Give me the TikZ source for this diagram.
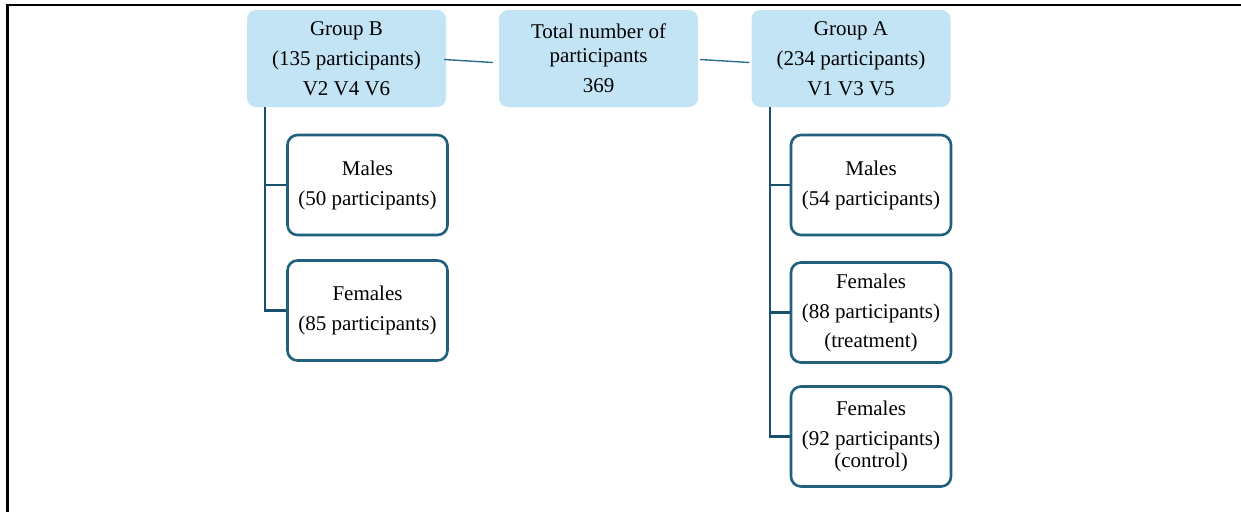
\documentclass[tikz,border=0pt]{standalone}
\usepackage{fontspec}
\setmainfont{Liberation Serif}
\usetikzlibrary{calc}
\definecolor{topfill}{HTML}{C3E4F5}
\definecolor{boxline}{HTML}{21607F}
\definecolor{trunkline}{HTML}{1A4F6C}
\definecolor{linkline}{HTML}{2C6E90}
\begin{document}
\begin{tikzpicture}[x=1pt,y=-1pt,
  every node/.style={font=\fontsize{21}{30}\selectfont, align=center, inner sep=0pt},
  topbox/.style={fill=topfill, draw=none, rounded corners=9pt, minimum width=199pt, minimum height=97pt},
  subbox/.style={fill=white, draw=boxline, line width=2.6pt, rounded corners=10pt, minimum width=160pt, minimum height=100pt},
  trunk/.style={draw=trunkline, line width=2.6pt},
  link/.style={draw=linkline, line width=1.4pt}]
\useasboundingbox (0,0) rectangle (1241,512);
% frame
\coordinate (ftl) at (7.5,5);
\coordinate (ftr) at (1241,5);
\coordinate (fbl) at (7.5,512);
\draw[line width=2.2pt] (ftr) -- (ftl) -- (fbl);
% top boxes
\node[topbox] (gb) at (346.5,58.5) {Group B\\(135 participants)\\V2 V4 V6};
\node[topbox] (tot) at (598.5,58.5) {Total number of\\[-6pt]participants\\369};
\node[topbox] (ga) at (851,58.5) {Group A\\(234 participants)\\V1 V3 V5};
% links
\draw[link] ($(gb.east)+(-2,1)$) -- ($(tot.west)+(-6,4)$);
\draw[link] ($(tot.east)+(2,1)$) -- ($(ga.west)+(-2,4)$);
% group B children
\node[subbox] (bm) at (367.5,185) {Males\\(50 participants)};
\node[subbox] (bf) at (367.5,310.5) {Females\\(85 participants)};
% group A children
\node[subbox] (am) at (871,185) {Males\\(54 participants)};
\node[subbox] (af1) at (871,312.5) {Females\\(88 participants)\\[-1pt](treatment)};
\node[subbox] (af2) at (871,436.5) {Females\\(92 participants)\\[-8pt](control)};
% trunks
\coordinate (bt) at ($(gb.south west)+(18,0)$);
\coordinate (at) at ($(ga.south west)+(18.5,0)$);
\draw[trunk] (bt) |- (bm.west);
\draw[trunk] (bt) |- (bf.west);
\draw[trunk] (at) |- (am.west);
\draw[trunk] (at) |- (af1.west);
\draw[trunk] (at) |- (af2.west);
\end{tikzpicture}
\end{document}
